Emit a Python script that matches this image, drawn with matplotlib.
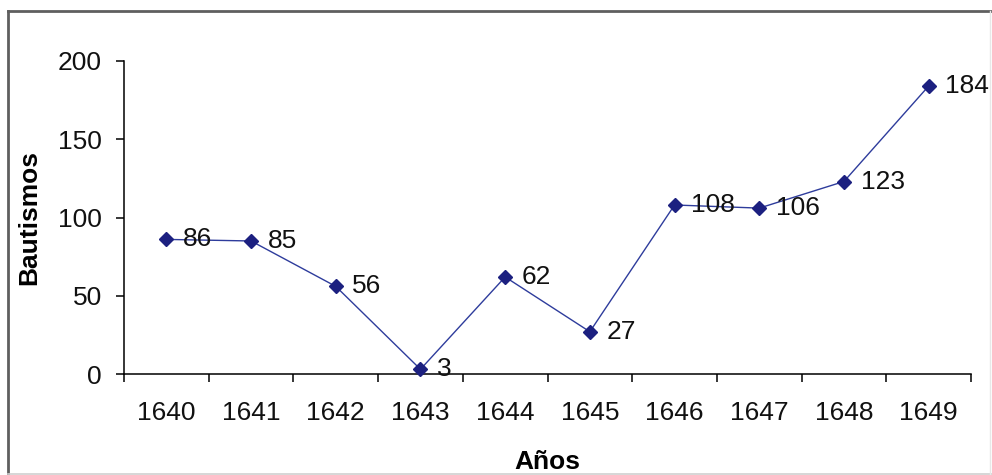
import matplotlib
matplotlib.use("Agg")
import matplotlib.pyplot as plt
from matplotlib.lines import Line2D

years = ["1640", "1641", "1642", "1643", "1644", "1645", "1646", "1647", "1648", "1649"]
bautismos = [86, 85, 56, 3, 62, 27, 108, 106, 123, 184]
y_ticks = [0, 50, 100, 150, 200]

plt.rcParams['font.family'] = ['Liberation Sans', 'DejaVu Sans']

W, H = 992, 475
fig = plt.figure(figsize=(W / 100, H / 100), dpi=100)
fig.patch.set_facecolor("white")

# frame around the chart
def px_line(x0, y0, x1, y1, color, lw):
    fig.add_artist(Line2D([x0 / W, x1 / W], [1 - y0 / H, 1 - y1 / H],
                          transform=fig.transFigure, color=color, lw=lw))

px_line(8, 11, 992, 11, "#5f5f5f", 2.0)
px_line(8, 11, 8, 475, "#5f5f5f", 2.0)
px_line(8, 474, 992, 474, "#cfcfcf", 1.2)
px_line(990, 11, 990, 475, "#e8e8e8", 1.0)

ax_left, ax_right = 124 / W, 971 / W
ax_bottom, ax_top = 1 - 374 / H, 1 - 61 / H
ax = fig.add_axes([ax_left, ax_bottom, ax_right - ax_left, ax_top - ax_bottom])

x = list(range(len(years)))
ax.plot(x, bautismos, color="#2e3c9c", lw=1.0, marker="D", ms=7.2,
        markerfacecolor="#1c2080", markeredgecolor="#1c2080", zorder=3, clip_on=False)

for xi, v in zip(x, bautismos):
    ax.annotate(str(v), (xi, v), xytext=(12, 0), textcoords="offset points",
                ha="left", va="center", fontsize=19, color="#111111")

ax.set_xlim(-0.5, len(years) - 0.5)
ax.set_ylim(0, 200)
ax.set_xticks([i - 0.5 for i in range(len(years) + 1)])
ax.set_xticklabels([])
ax.set_xticks(x, minor=True)
ax.set_xticklabels(years, minor=True)
ax.tick_params(axis="x", which="major", direction="out", length=6, width=1.1, color="black")
ax.tick_params(axis="x", which="minor", length=0, pad=19.5, labelsize=19, labelcolor="#111111")
ax.set_yticks(y_ticks)
ax.tick_params(axis="y", direction="out", length=6, width=1.1, pad=10, labelsize=19,
               labelcolor="#111111")

for s in ["top", "right"]:
    ax.spines[s].set_visible(False)
for s in ["left", "bottom"]:
    ax.spines[s].set_linewidth(1.1)
    ax.spines[s].set_color("black")

ax.set_xlabel("Años", fontsize=19, fontweight="bold", labelpad=18)
ax.set_ylabel("Bautismos", fontsize=19, fontweight="bold", labelpad=12)

fig.savefig("out.png", dpi=100)
